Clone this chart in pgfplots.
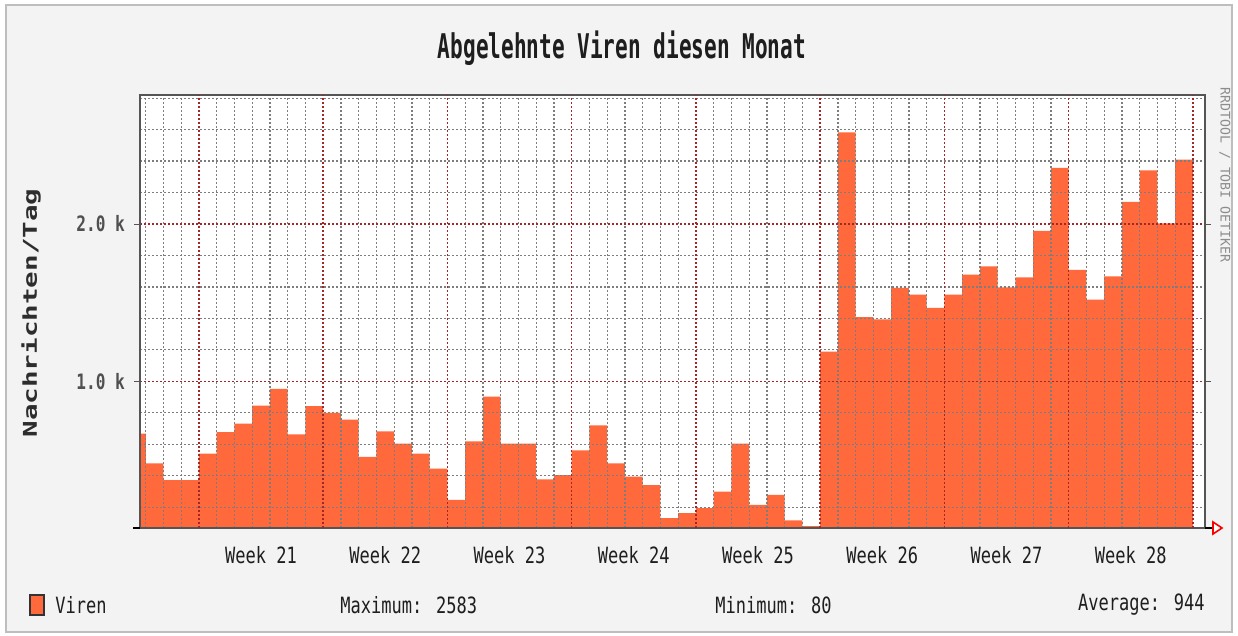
\documentclass[border=0pt]{standalone}
\usepackage{fontspec}
\usepackage{pgfplots}
\pgfplotsset{compat=1.18}
\setmainfont{DejaVu Sans Mono}
\newfontfamily\titlefont[FakeStretch=0.62]{DejaVu Sans Mono}
\newfontfamily\smallfont[FakeStretch=0.76]{DejaVu Sans Mono}
\newfontfamily\ylabfont[FakeStretch=1.45]{DejaVu Sans Mono}
\newfontfamily\wmfont{DejaVu Sans Mono}
\definecolor{bgc}{RGB}{243,243,243}
\definecolor{barc}{RGB}{255,105,60}
\definecolor{majgrid}{RGB}{160,40,40}
\definecolor{mingrid}{RGB}{125,125,125}
\definecolor{framec}{RGB}{85,85,85}
\definecolor{txt}{RGB}{30,30,30}
\begin{document}
\begin{tikzpicture}
\fill[white] (0,0) rectangle (619pt,318pt);
\draw[line width=1pt, draw={rgb,255:red,190;green,190;blue,190}, fill=bgc] (3pt,2pt) rectangle (616pt,315.5pt);
\node[font=\titlefont\bfseries\fontsize{17}{19}\selectfont, text=txt] at (311pt,294pt) {Abgelehnte Viren diesen Monat};
\node[font=\ylabfont\bfseries\fontsize{9.5}{11}\selectfont, text={rgb,255:red,45;green,45;blue,45}, rotate=90] at (15.5pt,161.5pt) {Nachrichten/Tag};
\node[font=\wmfont\fontsize{6.6}{8}\selectfont, text={rgb,255:red,140;green,140;blue,140}, rotate=-90] at (612.5pt,230.5pt) {RRDTOOL / TOBI OETIKER};
\begin{axis}[
  at={(70pt,54pt)}, anchor=south west, scale only axis,
  width=532.5pt, height=216.5pt,
  xmin=-3.324, xmax=56.68, ymin=68, ymax=2820,
  axis on top,
  axis background/.style={fill=white},
  axis line style={draw=framec, line width=0.8pt},
  xtick={3.5,10.5,17.5,24.5,31.5,38.5,45.5,52.5},
  xticklabels={Week 21,Week 22,Week 23,Week 24,Week 25,Week 26,Week 27,Week 28},
  xtick style={draw=none},
  minor xtick={-3,-2,...,56},
  extra x ticks={0,7,14,21,28,35,42,49,56},
  extra x tick labels={},
  extra x tick style={xmajorgrids=true, major tick length=3pt, tick style={draw=framec}},
  ytick={1000,2000},
  yticklabels={1.0 k,2.0 k},
  minor ytick={200,400,...,2800},
  xmajorgrids=false, xminorgrids=true,
  ymajorgrids=true, yminorgrids=true,
  major grid style={draw=majgrid, line width=0.75pt, dash pattern=on 1pt off 1pt},
  minor grid style={draw=mingrid, line width=0.6pt, dash pattern=on 1pt off 1pt},
  minor tick length=0pt,
  major tick length=3pt,
  tick align=outside,
  ytick style={draw=framec},
  tick label style={font=\smallfont\fontsize{11.2}{13}\selectfont, text=txt},
  yticklabel style={xshift=-1pt, font=\smallfont\bfseries\fontsize{10.6}{13}\selectfont, text={rgb,255:red,80;green,80;blue,80}},
  xticklabel style={yshift=-2.5pt},
]
\addplot[const plot, fill=barc, draw=none] coordinates {
(-3.324,667) (-3,478) (-2,373) (-1,373) (0,541) (1,678) (2,731) (3,846) (4,952) (5,663) (6,842)
(7,800) (8,756) (9,520) (10,682) (11,604) (12,541) (13,446)
(14,246) (15,619) (16,903) (17,604) (18,604) (19,377) (20,404)
(21,562) (22,720) (23,478) (24,394) (25,341) (26,131) (27,162)
(28,194) (29,299) (30,604) (31,215) (32,278) (33,116) (34,80)
(35,1189) (36,2583) (37,1408) (38,1394) (39,1594) (40,1552) (41,1467)
(42,1552) (43,1678) (44,1730) (45,1598) (46,1661) (47,1956) (48,2356)
(49,1709) (50,1520) (51,1667) (52,2141) (53,2341) (54,2004) (55,2410) (56,2410)
} \closedcycle;
\end{axis}
\draw[line width=0.8pt, black] (602.5pt,54pt) -- (607pt,54pt);
\draw[line width=0.8pt, red, fill=white] (606.5pt,57pt) -- (611pt,54pt) -- (606.5pt,51pt) -- cycle;
\draw[line width=1.2pt, black] (66.5pt,54pt) -- (70pt,54pt);
\fill[barc, draw=black!80, line width=0.8pt] (15pt,10.5pt) rectangle (22pt,20.5pt);
\node[font=\smallfont\fontsize{11.2}{13}\selectfont, text=txt, anchor=west, inner sep=0pt] at (27.5pt,15.5pt) {Viren};
\node[font=\smallfont\fontsize{11.2}{13}\selectfont, text=txt, anchor=west, inner sep=0pt] at (170pt,15.5pt) {Maximum: 2583};
\node[font=\smallfont\fontsize{11.2}{13}\selectfont, text=txt, anchor=west, inner sep=0pt] at (357.5pt,15.5pt) {Minimum: 80};
\node[font=\smallfont\fontsize{11.2}{13}\selectfont, text=txt, anchor=east, inner sep=0pt] at (602.5pt,15.5pt) {Average: 944};
\pgfresetboundingbox
\useasboundingbox (0,0) rectangle (619pt,318pt);
\end{tikzpicture}
\end{document}
